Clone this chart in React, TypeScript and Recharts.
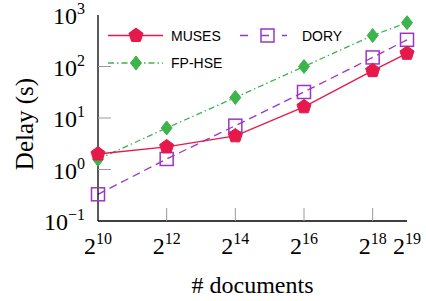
import React from 'react';
import { LineChart, Line, XAxis, YAxis, Legend } from 'recharts';

const docs = [1024, 4096, 16384, 65536, 262144, 524288];
const musesDelay = [2.0, 2.75, 4.5, 16.5, 83, 180];
const doryDelay = [0.33, 1.6, 7.1, 32, 150, 330];
const fphseDelay = [1.58, 6.4, 25, 100, 400, 710];
const yTicks = [0.1, 1, 10, 100, 1000];

const C_MUSES = '#e6194b';
const C_FPHSE = '#3cb44b';
const C_DORY = '#9b35c8';

const data = docs.map((d, i) => ({
  docs: d,
  muses: musesDelay[i],
  dory: doryDelay[i],
  fphse: fphseDelay[i],
}));

const SERIF = '"Liberation Serif", "Times New Roman", serif';
const SANS = '"Liberation Sans", Arial, sans-serif';

const X_MIN = docs[0];
const X_MAX = docs[docs.length - 1];
const Y_MIN = yTicks[0];
const Y_MAX = yTicks[yTicks.length - 1];
const TICK_LEN = 13;
const TICK_COLOR = '#9a9a9a';

function pentagonPts(cx: number, cy: number, r: number) {
  const pts: string[] = [];
  for (let k = 0; k < 5; k++) {
    const a = (-90 + 72 * k) * Math.PI / 180;
    pts.push(`${cx + r * Math.cos(a)},${cy + r * Math.sin(a)}`);
  }
  return pts.join(' ');
}

const Pentagon = ({ cx, cy }: any) => (
  <polygon points={pentagonPts(cx, cy, 7.4)} fill={C_MUSES} stroke={C_MUSES} strokeWidth={1} />
);
const Diamond = ({ cx, cy }: any) => (
  <polygon
    points={`${cx},${cy - 7} ${cx + 5.5},${cy} ${cx},${cy + 7} ${cx - 5.5},${cy}`}
    fill={C_FPHSE}
    stroke={C_FPHSE}
    strokeWidth={1}
  />
);
const Square = ({ cx, cy }: any) => (
  <rect x={cx - 6.5} y={cy - 6.5} width={13} height={13} fill="none" stroke={C_DORY} strokeWidth={1.5} />
);

const log2 = (v: number) => Math.round(Math.log2(v));
const log10 = (v: number) => Math.round(Math.log10(v));
const fmtExp = (n: number) => (n < 0 ? '\u2212' + Math.abs(n) : String(n));

const BottomTick = (props: any) => {
  const { x, y, payload } = props;
  const v = payload.value;
  const inner = v !== X_MIN && v !== X_MAX;
  return (
    <g>
      {inner && <line x1={x} x2={x} y1={y} y2={y - TICK_LEN} stroke={TICK_COLOR} strokeWidth={1} />}
      <text x={x} y={y + 33} textAnchor="middle" fontFamily={SERIF} fill="#000">
        <tspan fontSize={24}>2</tspan>
        <tspan fontSize={16} dy={-10}>{fmtExp(log2(v))}</tspan>
      </text>
    </g>
  );
};

const TopTick = (props: any) => {
  const { x, y, payload } = props;
  const v = payload.value;
  const inner = v !== X_MIN && v !== X_MAX;
  return inner ? <line x1={x} x2={x} y1={y} y2={y + TICK_LEN} stroke={TICK_COLOR} strokeWidth={1} /> : <g />;
};

const LeftTick = (props: any) => {
  const { x, y, payload } = props;
  const v = payload.value;
  const inner = v !== Y_MIN && v !== Y_MAX;
  return (
    <g>
      {inner && <line x1={x} x2={x + TICK_LEN} y1={y} y2={y} stroke={TICK_COLOR} strokeWidth={1} />}
      <text x={x - 13} y={y + 9} textAnchor="end" fontFamily={SERIF} fill="#000">
        <tspan fontSize={24}>10</tspan>
        <tspan fontSize={16} dy={-10}>{fmtExp(log10(v))}</tspan>
      </text>
    </g>
  );
};

const RightTick = (props: any) => {
  const { x, y, payload } = props;
  const v = payload.value;
  const inner = v !== Y_MIN && v !== Y_MAX;
  return inner ? <line x1={x} x2={x - TICK_LEN} y1={y} y2={y} stroke={TICK_COLOR} strokeWidth={1} /> : <g />;
};

const LegendContent = () => (
  <svg width={240} height={56} style={{ overflow: 'visible' }}>
    <line x1={8} x2={63} y1={15.5} y2={15.5} stroke={C_MUSES} strokeWidth={1.3} />
    <Pentagon cx={36} cy={15.5} />
    <text x={71} y={20.5} fontFamily={SANS} fontSize={14} fill="#000">MUSES</text>

    <line x1={140} x2={187} y1={15.5} y2={15.5} stroke={C_DORY} strokeWidth={1.3} strokeDasharray="8 13" />
    <Square cx={167.5} cy={15.5} />
    <text x={202} y={20.5} fontFamily={SANS} fontSize={14} fill="#000">DORY</text>

    <line x1={8} x2={63} y1={43} y2={43} stroke={C_FPHSE} strokeWidth={1.3} strokeDasharray="6 3 1.5 3" />
    <Diamond cx={36} cy={43} />
    <text x={71} y={48} fontFamily={SANS} fontSize={14} fill="#000">FP-HSE</text>
  </svg>
);

export default function App() {
  return (
    <div style={{ position: 'absolute', left: 0, top: 0, width: 426, height: 301, background: '#fff' }}>
      <LineChart width={426} height={301} data={data} margin={{ top: 15, right: 19, left: 0, bottom: 0 }}>
        <XAxis
          dataKey="docs"
          type="number"
          scale="log"
          domain={[X_MIN, X_MAX]}
          ticks={docs}
          interval={0}
          height={80}
          tickSize={0}
          tickMargin={0}
          tickLine={false}
          axisLine={{ stroke: '#000', strokeWidth: 1.3 }}
          tick={(p: any) => <BottomTick {...p} />}
          label={{ value: '# documents', position: 'insideBottom', offset: 8, fontFamily: SERIF, fontSize: 24, fill: '#000' }}
        />
        <XAxis
          xAxisId="top"
          orientation="top"
          dataKey="docs"
          type="number"
          scale="log"
          domain={[X_MIN, X_MAX]}
          ticks={docs}
          interval={0}
          height={0}
          tickSize={0}
          tickMargin={0}
          tickLine={false}
          axisLine={{ stroke: '#000', strokeWidth: 1.3 }}
          tick={(p: any) => <TopTick {...p} />}
        />
        <YAxis
          type="number"
          scale="log"
          domain={[Y_MIN, Y_MAX]}
          ticks={yTicks}
          interval={0}
          width={98}
          tickSize={0}
          tickMargin={0}
          tickLine={false}
          allowDataOverflow
          axisLine={{ stroke: '#000', strokeWidth: 1.3 }}
          tick={(p: any) => <LeftTick {...p} />}
          label={{ value: 'Delay (s)', angle: -90, position: 'insideLeft', offset: 24, dy: 6, fontFamily: SERIF, fontSize: 25, fill: '#000', style: { textAnchor: 'middle' } }}
        />
        <YAxis
          yAxisId="right"
          orientation="right"
          type="number"
          scale="log"
          domain={[Y_MIN, Y_MAX]}
          ticks={yTicks}
          interval={0}
          width={0}
          tickSize={0}
          tickMargin={0}
          tickLine={false}
          allowDataOverflow
          axisLine={{ stroke: '#000', strokeWidth: 1.3 }}
          tick={(p: any) => <RightTick {...p} />}
        />
        <Legend
          layout="vertical"
          align="center"
          verticalAlign="middle"
          content={() => <LegendContent />}
          wrapperStyle={{ left: 100, top: 20, width: 240, height: 56 }}
        />
        <Line
          dataKey="fphse"
          stroke={C_FPHSE}
          strokeWidth={1.3}
          strokeDasharray="6 3 1.5 3"
          isAnimationActive={false}
          dot={(p: any) => <Diamond key={`f${p.index}`} cx={p.cx} cy={p.cy} />}
        />
        <Line
          dataKey="dory"
          stroke={C_DORY}
          strokeWidth={1.3}
          strokeDasharray="8 5"
          isAnimationActive={false}
          dot={(p: any) => <Square key={`d${p.index}`} cx={p.cx} cy={p.cy} />}
        />
        <Line
          dataKey="muses"
          stroke={C_MUSES}
          strokeWidth={1.3}
          isAnimationActive={false}
          dot={(p: any) => <Pentagon key={`m${p.index}`} cx={p.cx} cy={p.cy} />}
        />
      </LineChart>
    </div>
  );
}
